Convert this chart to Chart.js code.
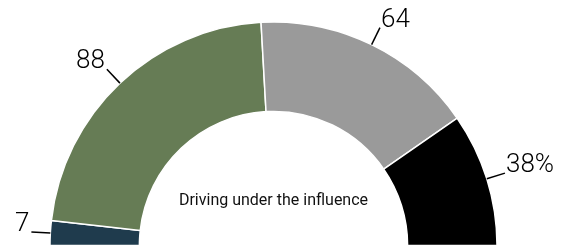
<!DOCTYPE html>
<html>
<head>
<meta charset="utf-8">
<script src="https://cdn.jsdelivr.net/npm/chart.js@4.4.1/dist/chart.umd.min.js"></script>
<style>
    html, body { margin: 0; padding: 0; background: #fff; }
    #wrap { width: 573px; height: 245px; position: relative; }
</style>
</head>
<body>
<div id="wrap"><canvas id="myChart"></canvas></div>
<script>
const values = [7, 88, 64, 38]
const sliceLabels = ['7', '88', '64', '38%']
const colors = ['#1f3b4d', '#667c55', '#9a9a9a', '#000000']
const centerText = 'Driving under the influence'

window.onload = () => {
    // draws the number labels with a short leader line off each slice
    const outsideLabels = {
        id: 'outsideLabels',
        afterDatasetsDraw(chart) {
            const ctx = chart.ctx
            const meta = chart.getDatasetMeta(0)
            ctx.save()
            ctx.font = '300 26px Roboto'
            ctx.fillStyle = '#000'
            ctx.strokeStyle = '#000'
            ctx.lineWidth = 1.5
            ctx.textBaseline = 'alphabetic'
            meta.data.forEach((arc, i) => {
                const {x, y, startAngle, endAngle, outerRadius} = arc.getProps(['x', 'y', 'startAngle', 'endAngle', 'outerRadius'], true)
                const mid = (startAngle + endAngle) / 2
                const cos = Math.cos(mid), sin = Math.sin(mid)
                const x1 = x + cos * outerRadius, y1 = y + sin * outerRadius
                const x2 = x1 + cos * 19, y2 = y1 + sin * 19
                ctx.beginPath()
                ctx.moveTo(x1, y1)
                ctx.lineTo(x2, y2)
                ctx.stroke()
                if (cos < 0) {
                    ctx.textAlign = 'right'
                    ctx.fillText(sliceLabels[i], x2 - 2, y2 - 1)
                } else {
                    ctx.textAlign = 'left'
                    ctx.fillText(sliceLabels[i], x2 + 1, y2 - 1)
                }
            })
            // text in the hole
            const a = meta.data[0]
            ctx.font = '16px Roboto'
            ctx.textAlign = 'center'
            ctx.fillStyle = '#111'
            ctx.fillText(centerText, a.x, a.y - 41)
            ctx.restore()
        }
    }

    const config = {
        type: 'doughnut',
        data: {
            labels: sliceLabels,
            datasets: [{
                data: values,
                backgroundColor: colors,
                borderColor: '#fff',
                borderWidth: 1.5
            }]
        },
        options: {
            responsive: true,
            maintainAspectRatio: false,
            animation: false,
            rotation: -90,
            circumference: 180,
            cutout: '60%',
            radius: 223.5,
            layout: {
                padding: {top: 22.5, left: 0, right: 26, bottom: 0}
            },
            plugins: {
                legend: {display: false},
                tooltip: {enabled: false}
            }
        },
        plugins: [outsideLabels]
    }
    new Chart(document.getElementById('myChart'), config)
}
</script>
</body>
</html>
